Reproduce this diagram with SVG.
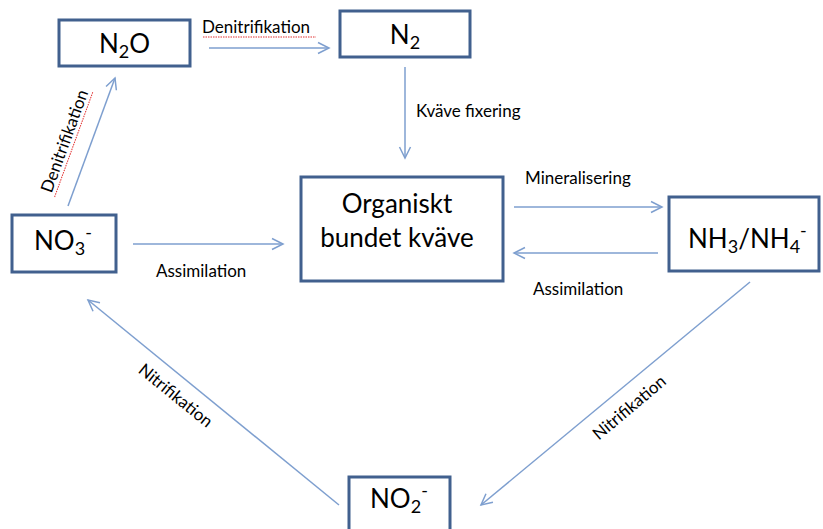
<svg xmlns="http://www.w3.org/2000/svg" width="823" height="529" viewBox="0 0 823 529">
<style>
.box{fill:#fff;stroke:#41608E;stroke-width:3}
.big{font-family:Lato,"Liberation Sans",sans-serif;font-size:26px;fill:#000}
.lbl{font-family:Lato,"Liberation Sans",sans-serif;font-size:17px;fill:#000}
.con{stroke:#7E9FCF;stroke-width:1.5;fill:none;marker-end:url(#arr)}
.sq{stroke:#E03030;stroke-width:1;fill:none;stroke-dasharray:1.5 1}
</style>
<defs>
<marker id="arr" markerUnits="userSpaceOnUse" markerWidth="14" markerHeight="14" viewBox="0 0 14 14" refX="12" refY="7" orient="auto">
<path d="M1,1.5 L12,7 L1,12.5" fill="none" stroke="#7E9FCF" stroke-width="1.5"/>
</marker>
</defs>
<rect width="823" height="529" fill="#fff"/>
<g id="connectors">
<line class="con" x1="209" y1="48" x2="329" y2="48"/>
<line class="con" x1="405" y1="67" x2="405" y2="158"/>
<line class="con" x1="68" y1="206" x2="115" y2="78"/>
<line class="con" x1="133" y1="244" x2="283" y2="244"/>
<line class="con" x1="514" y1="207" x2="662" y2="207"/>
<line class="con" x1="658" y1="253" x2="514" y2="253"/>
<line class="con" x1="750" y1="282" x2="481" y2="505"/>
<line class="con" x1="339" y1="505" x2="88" y2="300"/>
<text class="lbl" x="202" y="33">Denitrifikation</text>
<path class="sq" d="M203,37 L316,37"/>
<text class="lbl" x="416" y="117">Kväve fixering</text>
<text class="lbl" x="525" y="184">Mineralisering</text>
<text class="lbl" x="533" y="295">Assimilation</text>
<text class="lbl" x="156" y="277">Assimilation</text>
<g transform="translate(70,143) rotate(-70)">
<text class="lbl" x="0" y="0" text-anchor="middle">Denitrifikation</text>
<path class="sq" d="M-56,4 L56,4"/>
</g>
<text class="lbl" transform="translate(172,400) rotate(39)" text-anchor="middle">Nitrifikation</text>
<text class="lbl" transform="translate(633,412) rotate(-40)" text-anchor="middle">Nitrifikation</text>
</g>
<g id="n2o">
<rect class="box" x="59" y="20" width="131" height="46"/>
<text class="big" x="124.500" y="53" text-anchor="middle">N<tspan font-size="18" dy="5">2</tspan><tspan dy="-5">O</tspan></text>
</g>
<g id="n2">
<rect class="box" x="340" y="11" width="130" height="46"/>
<text class="big" x="405" y="44" text-anchor="middle">N<tspan font-size="18" dy="5">2</tspan></text>
</g>
<g id="organic">
<rect class="box" x="301" y="177" width="202" height="104"/>
<text class="big" x="397" y="213" text-anchor="middle" font-size="27">Organiskt</text>
<text class="big" x="397" y="247" text-anchor="middle" font-size="27">bundet kväve</text>
</g>
<g id="nh3">
<rect class="box" x="669" y="197" width="150" height="74"/>
<text class="big" x="688" y="248">NH<tspan font-size="18" dy="5">3</tspan><tspan dy="-5">/NH</tspan><tspan font-size="18" dy="5">4</tspan><tspan font-size="18" dy="-16">-</tspan></text>
</g>
<g id="no3">
<rect class="box" x="12" y="215" width="104" height="57"/>
<text class="big" x="34" y="250">NO<tspan font-size="18" dy="5">3</tspan><tspan font-size="18" dy="-16">-</tspan></text>
</g>
<g id="no2">
<rect class="box" x="349" y="477" width="101" height="60"/>
<text class="big" x="370" y="508">NO<tspan font-size="18" dy="5">2</tspan><tspan font-size="18" dy="-16">-</tspan></text>
</g>
</svg>
